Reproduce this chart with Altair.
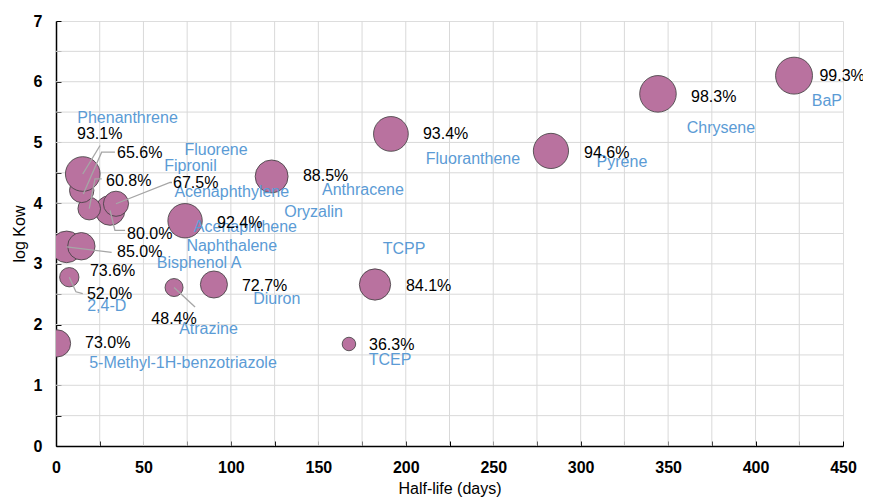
import altair as alt
import pandas as pd

# ---- data ----
names = ["Acenaphthene", "Acenaphthylene", "Fluorene", "Phenanthrene", "Fipronil",
         "Oryzalin", "Naphthalene", "Bisphenol A", "2,4-D", "5-Methyl-1H-benzotriazole",
         "Atrazine", "Diuron", "TCEP", "TCPP", "Anthracene", "Fluoranthene",
         "Pyrene", "Chrysene", "BaP"]
half_life = [30.9, 19.0, 14.7, 15.3, 34.3, 73.8, 6.1, 14.5, 7.6, 0.6,
             67.5, 90.3, 167.5, 182.4, 123.3, 191.5, 283.0, 344.2, 422.0]
log_kow = [3.88, 3.91, 4.21, 4.48, 3.99, 3.71, 3.28, 3.29, 2.78, 1.69,
           2.61, 2.66, 1.68, 2.66, 4.44, 5.14, 4.86, 5.80, 6.10]
removal = [80.0, 60.8, 65.6, 93.1, 67.5, 92.4, 85.0, 73.6, 52.0, 73.0,
           48.4, 72.7, 36.3, 84.1, 88.5, 93.4, 94.6, 98.3, 99.3]

# percentage label anchors (data units)
pct_x = [40.6, 28.6, 34.9, 12.0, 66.9, 92.1, 34.9, 19.4, 17.7, 16.6,
         67.5, 106.3, 179.0, 200.1, 141.2, 209.8, 301.9, 363.1, 436.5]
pct_y = [3.50, 4.37, 4.83, 5.14, 4.34, 3.68, 3.19, 2.89, 2.50, 1.69,
         2.10, 2.63, 1.66, 2.63, 4.44, 5.14, 4.83, 5.75, 6.10]
pct_align = ["left"] * 10 + ["center"] + ["left"] * 8

# name label anchors (centre, data units)
name_x = [108.3, 100.5, 91.5, 40.9, 76.9, 147.3, 100.5, 81.8, 29.0, 72.6,
          87.2, 126.2, 191.0, 199.0, 175.5, 238.4, 323.6, 380.2, 440.8]
name_y = [3.61, 4.18, 4.88, 5.40, 4.62, 3.86, 3.29, 3.01, 2.31, 1.37,
          1.93, 2.42, 1.41, 3.25, 4.22, 4.73, 4.67, 5.24, 5.69]

# leader lines: label -> points
leaders = {
    "93.1%": [(15.3, 4.48), (25.2, 4.95)],
    "65.6%": [(15.6, 4.15), (26.1, 4.84), (33.7, 4.84)],
    "60.8%": [(19.0, 3.91), (22.3, 4.40), (26.1, 4.40)],
    "67.5%": [(34.3, 3.99), (65.2, 4.34), (66.3, 4.34)],
    "80.0%": [(30.9, 3.88), (33.7, 3.55), (39.5, 3.55)],
    "85.0%": [(6.1, 3.28), (31.8, 3.19)],
    "52.0%": [(7.6, 2.78), (11.4, 2.54), (15.3, 2.51)],
    "48.4%": [(67.5, 2.61), (79.5, 2.29)],
}

x_ticks = list(range(0, 451, 25))
y_ticks = [i * 0.5 for i in range(15)]

# ---- tables ----
df = pd.DataFrame({
    "name": names, "half_life": half_life, "log_kow": log_kow,
    "removal": removal, "order": list(range(len(names))),
})
df_pct = pd.DataFrame({
    "text": [f"{r:.1f}%" for r in removal], "x": pct_x, "y": pct_y, "align": pct_align,
})
df_name = pd.DataFrame({"text": names, "x": name_x, "y": name_y})
rows = []
for lid, pts in leaders.items():
    for i, (lx, ly) in enumerate(pts):
        rows.append({"id": lid, "seq": i, "x": lx, "y": ly})
df_lead = pd.DataFrame(rows)
# interior gridlines only (the frame is drawn by the view border)
df_gx = pd.DataFrame({"v": x_ticks[1:-1]})
df_gy = pd.DataFrame({"v": y_ticks[1:-1]})

W, H = 787, 425
FONT = "Liberation Sans"

xs = alt.Scale(domain=[0, 450], nice=False, zero=False)
ys = alt.Scale(domain=[0, 7], nice=False, zero=False)

x_axis = alt.Axis(values=x_ticks,
                  labelExpr="datum.value % 50 === 0 ? format(datum.value, 'd') : ''",
                  grid=False, ticks=False,
                  domainColor="#000000", domainWidth=1.5,
                  labelFont=FONT, labelFontSize=16, labelFontWeight="bold",
                  labelColor="#000000", labelPadding=13, labelFlush=False,
                  title="Half-life (days)", titleFont=FONT, titleFontSize=16,
                  titleFontWeight="normal", titleColor="#000000", titlePadding=5)
y_axis = alt.Axis(values=y_ticks,
                  labelExpr="datum.value % 1 === 0 ? format(datum.value, 'd') : ''",
                  grid=False, ticks=False,
                  domainColor="#000000", domainWidth=1.5,
                  labelFont=FONT, labelFontSize=16, labelFontWeight="bold",
                  labelColor="#000000", labelPadding=14, labelFlush=False,
                  title="log Kow", titleFont=FONT, titleFontSize=16,
                  titleFontWeight="normal", titleColor="#000000", titlePadding=6)

grid_x = alt.Chart(df_gx).mark_rule(color="#D9D9D9", strokeWidth=1).encode(
    x=alt.X("v:Q", scale=xs, axis=None))
grid_y = alt.Chart(df_gy).mark_rule(color="#D9D9D9", strokeWidth=1).encode(
    y=alt.Y("v:Q", scale=ys, axis=None))

bubbles = alt.Chart(df).mark_point(
    filled=True, shape="circle", fill="#B9729F", stroke="#3C3C3C",
    strokeWidth=0.8, opacity=1, fillOpacity=1, strokeOpacity=1, clip=True
).encode(
    x=alt.X("half_life:Q", scale=xs, axis=x_axis),
    y=alt.Y("log_kow:Q", scale=ys, axis=y_axis),
    size=alt.Size("removal:Q", scale=alt.Scale(type="pow", exponent=2, domain=[0, 100],
                                                range=[0, 1385]), legend=None),
    order=alt.Order("order:Q"),
)

lead = alt.Chart(df_lead).mark_line(color="#A6A6A6", strokeWidth=1.3).encode(
    x=alt.X("x:Q", scale=xs, axis=None),
    y=alt.Y("y:Q", scale=ys, axis=None),
    detail="id:N",
    order="seq:Q",
)

# inward ticks: opposite-orient axes pulled onto the bottom / left edges
tick_x_axis = alt.Axis(orient="top", offset=-H, values=x_ticks, ticks=True, tickSize=5,
                       tickColor="#000000", tickWidth=1, labels=False, domain=False,
                       grid=False, title=None)
tick_y_axis = alt.Axis(orient="right", offset=-W, values=y_ticks, ticks=True, tickSize=5,
                       tickColor="#000000", tickWidth=1, labels=False, domain=False,
                       grid=False, title=None)

pct_left = alt.Chart(df_pct[df_pct["align"] == "left"]).mark_text(
    align="left", baseline="middle", font=FONT, fontSize=16, color="#000000"
).encode(
    x=alt.X("x:Q", scale=xs, axis=tick_x_axis),
    y=alt.Y("y:Q", scale=ys, axis=tick_y_axis),
    text="text:N",
)
pct_center = alt.Chart(df_pct[df_pct["align"] == "center"]).mark_text(
    align="center", baseline="middle", font=FONT, fontSize=16, color="#000000"
).encode(
    x=alt.X("x:Q", scale=xs, axis=None),
    y=alt.Y("y:Q", scale=ys, axis=None),
    text="text:N",
)

name_text = alt.Chart(df_name).mark_text(
    align="center", baseline="middle", font=FONT, fontSize=16, color="#5B9BD5"
).encode(
    x=alt.X("x:Q", scale=xs, axis=None),
    y=alt.Y("y:Q", scale=ys, axis=None),
    text="text:N",
)

chart = alt.layer(grid_x, grid_y, bubbles, lead, name_text, pct_left, pct_center).resolve_axis(
    x="independent", y="independent"
).properties(
    width=W, height=H,
    autosize=alt.AutoSizeParams(type="none"),
    padding={"left": 48, "top": 13, "right": 20, "bottom": 52},
).configure_view(
    stroke="#000000", strokeWidth=1.2
).configure(background="white")

chart.save("out.html", embed_options={"renderer": "svg", "actions": False})
